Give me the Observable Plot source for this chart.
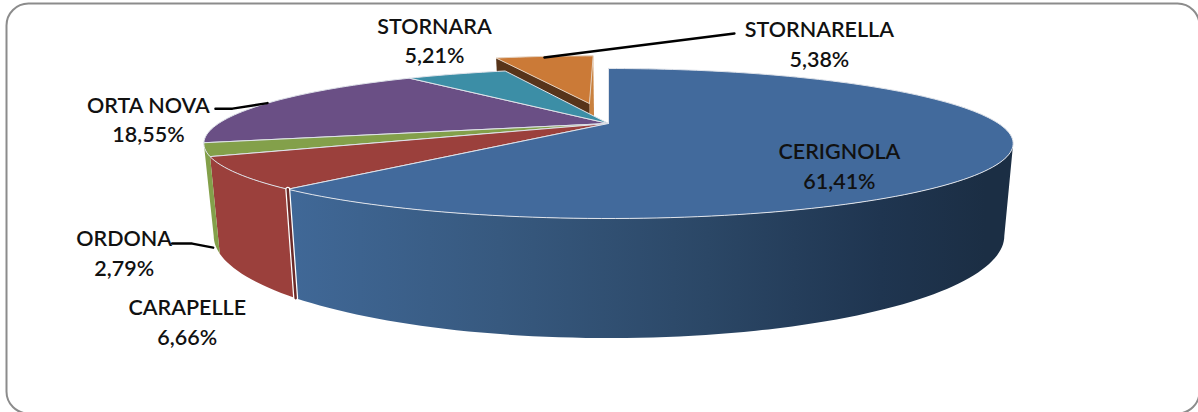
<!DOCTYPE html>
<html><head><meta charset="utf-8">
<script src="https://cdn.jsdelivr.net/npm/d3@7"></script>
<script src="https://cdn.jsdelivr.net/npm/@observablehq/plot@0.6"></script>
<style>html,body{margin:0;padding:0;background:#fff;overflow:hidden}svg{display:block}</style>
</head><body><div id="chart"></div>
<script>
// Data
const comuni = ["CERIGNOLA","CARAPELLE","ORDONA","ORTA NOVA","STORNARA","STORNARELLA"];
const quote  = [61.41,6.66,2.79,18.55,5.21,5.38];
const coloriTop  = ["#426a9c","#9b403c","#83a04a","#6a4f85","#3c8ea6","#cb7a37"];
const coloriWall = ["url(#wallGrad)","#9b403c","#83a04a","#6a4f85","#3c8ea6","#c9813f"];
const esplosa = ["STORNARELLA"];

// Layout (perspective projection of the 3D pie, and label offsets from each slice's rim)
const topFace = {cx:608, ay:123, A:390, a:69.67, b:0.2667};
const botFace = {cx:608.5, ay:208, A:381, a:95,    b:0.2667};
const explode = 0.315;
const wallVisible = [105.5, 254.5];
const labelOffset = {CERIGNOLA:[-172,14],CARAPELLE:[-50,147],ORDONA:[-81,102],"ORTA NOVA":[-119,15],STORNARA:[-22,-35],STORNARELLA:[275,-14]};
const leaderOffset = {
  "ORTA NOVA":[[-52,5.5],[-35,5.5],[0,0]],
  ORDONA:[[-33,94],[-13,94],[8,98]],
  STORNARELLA:[[0,1],[190,-23]]
};

const rad = d => d*Math.PI/180;
function project(face, deg, r, off){
  const X = r*Math.sin(rad(deg)) + (off ? off[0] : 0);
  const Y = -r*Math.cos(rad(deg)) + (off ? off[1] : 0);
  const w = 1 - face.b*Y;
  return {x: face.cx + face.A*X/w, y: face.ay + face.a*Y/w};
}
function arc(face, a0, a1, off){
  const n = Math.max(2, Math.ceil(Math.abs(a1-a0)/1.5));
  return d3.range(n+1).map(i => project(face, a0+(a1-a0)*i/n, 1, off));
}
let acc = 0;
const slices = comuni.map((name,i)=>{
  const a0 = acc/100*360; acc += quote[i]; const a1 = acc/100*360; const mid=(a0+a1)/2;
  const off = esplosa.includes(name) ? [explode*Math.sin(rad(mid)), -explode*Math.cos(rad(mid))] : null;
  return {name, value:quote[i], a0, a1, mid, off, top:coloriTop[i], wall:coloriWall[i]};
});
const poly = (pts, fill, stroke, sw=1) => Plot.line([...pts, pts[0]], {x:"x", y:"y", fill, stroke: stroke||"none", strokeWidth:sw, curve:"linear"});

const marks = [];
// gradient definition
marks.push(() => {
  const g = d3.create("svg:defs");
  const lg = g.append("linearGradient").attr("id","wallGrad").attr("gradientUnits","userSpaceOnUse")
    .attr("x1",290).attr("x2",985).attr("y1",0).attr("y2",0);
  [[0,"#406897"],[0.3,"#37597f"],[0.6,"#2b4766"],[0.85,"#1f3550"],[1,"#1b2e44"]]
    .forEach(([o,c])=>lg.append("stop").attr("offset",o).attr("stop-color",c));
  return g.node();
});
marks.push(Plot.frame({stroke:"#8c8c8c", strokeWidth:2, rx:22, ry:22, insetLeft:6, insetTop:3, insetRight:-1, insetBottom:-1}));

// exploded slice: cut walls first, everything else covers their lower part
for (const s of slices.filter(d=>d.off)) {
  const apexT = project(topFace, 0, 0, s.off), apexB = project(botFace, 0, 0, s.off);
  const l0 = project(topFace, s.a0, 1, s.off), l1 = project(botFace, s.a0, 1, s.off);
  const r0 = project(topFace, s.a1, 1, s.off), r1 = project(botFace, s.a1, 1, s.off);
  marks.push(poly([r0, apexT, apexB, r1], s.wall));
  marks.push(poly([l0, apexT, apexB, l1], "#57341a"));
  marks.push(poly([apexT, ...arc(topFace, s.a0, s.a1, s.off)], s.top, "#e4d0bd", 1));
}
// front walls
for (const s of slices.filter(d=>!d.off)) {
  const a0 = Math.max(s.a0, wallVisible[0]), a1 = Math.min(s.a1, wallVisible[1]);
  if (a1 <= a0) continue;
  marks.push(poly([...arc(topFace,a0,a1), ...arc(botFace,a0,a1).reverse()], s.wall));
}
// top faces, back to front
const apex = project(topFace,0,0);
for (const name of ["ORTA NOVA","STORNARA","ORDONA","CARAPELLE","CERIGNOLA"]) {
  const s = slices.find(d=>d.name===name);
  marks.push(poly([apex, ...arc(topFace,s.a0,s.a1)], s.top, "#dfe3ea", 1));
}
// seam between Carapelle and Cerignola walls
const seamA = slices[0].a1;
const seam = [project(topFace,seamA,1), project(botFace,seamA,1)];
marks.push(Plot.line(seam,{x:"x",y:"y",stroke:"#fff",strokeWidth:5}));
marks.push(Plot.line(seam,{x:"x",y:"y",stroke:"#6b2a28",strokeWidth:2.5}));

// labels and leaders
const rimAnchor = s => project(topFace, s.mid, 1, s.off);
for (const s of slices) {
  const o = leaderOffset[s.name]; if(!o) continue;
  const p = rimAnchor(s);
  marks.push(Plot.line(o.map(([dx,dy])=>({x:p.x+dx,y:p.y+dy})),{x:"x",y:"y",stroke:"#000",strokeWidth:2.5,curve:"linear"}));
}
const fmt = v => d3.format(".2f")(v).replace(".",",")+"%";
marks.push(Plot.text(slices,{
  x:d=>rimAnchor(d).x+labelOffset[d.name][0],
  y:d=>rimAnchor(d).y+labelOffset[d.name][1],
  text:d=>d.name+"\n"+fmt(d.value),
  fontFamily:"Lato, 'Open Sans', sans-serif", fontSize:21.5, fontWeight:600, fill:"#111", lineHeight:1.38, textAnchor:"middle"
}));

const chart = Plot.plot({width:1198,height:412,margin:0,
  x:{domain:[0,1198],range:[0,1198],axis:null},
  y:{domain:[0,412],range:[0,412],axis:null},
  style:{background:"#fff"}, marks});
document.getElementById("chart").append(chart);
</script></body></html>
